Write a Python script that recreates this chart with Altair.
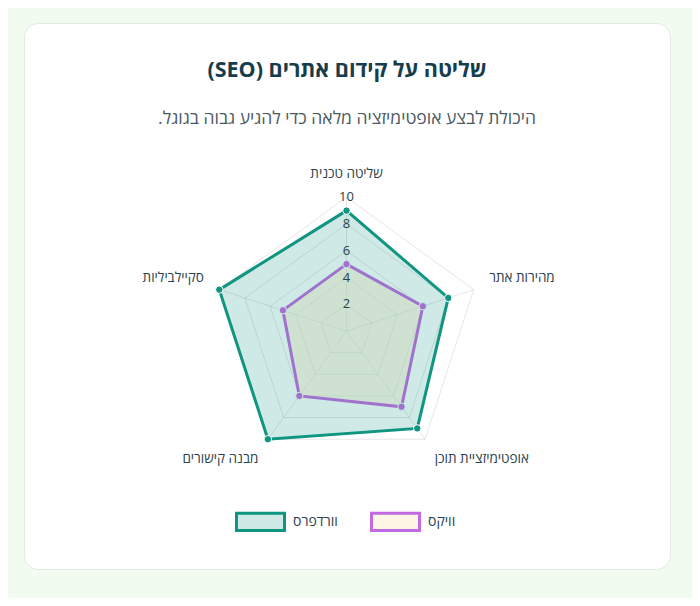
import math
import altair as alt
import pandas as pd

# ---------------- data ----------------
title_text = "שליטה על קידום אתרים (SEO)"
subtitle_text = "היכולת לבצע אופטימיזציה מלאה כדי להגיע גבוה בגוגל."
categories = ["שליטה טכנית", "מהירות אתר", "אופטימיזציית תוכן", "מבנה קישורים", "סקיילביליות"]
series_names = ["וורדפרס", "וויקס"]
wordpress_values = [9, 8, 9, 10, 10]
wix_values = [5, 6, 7, 6, 5]
tick_values = [2, 4, 6, 8, 10]
scale_max = 10

# ---------------- styles / layout ----------------
stroke_colors = ["#0f9580", "#c36ae0"]
fill_colors = ["rgba(17,149,128,0.2)", "rgba(255,234,200,0.45)"]
FONT = "Open Sans, DejaVu Sans, sans-serif"
TEXT_COLOR = "#2a424d"

W, H = 646, 546          # card (view) size
CX, CY = 322.5, 308.0    # radar centre inside the view, px
PX = 13.375              # px per value unit
x_dom = [-CX / PX, (W - CX) / PX]
y_dom = [-(H - CY) / PX, CY / PX]
LABEL_R = 150 / PX

n = len(categories)


def ang(i):
    return math.pi / 2 - 2 * math.pi * i / n


x_enc = lambda f: alt.X(f"{f}:Q", scale=alt.Scale(domain=x_dom, nice=False, zero=False), axis=None)
y_enc = lambda f: alt.Y(f"{f}:Q", scale=alt.Scale(domain=y_dom, nice=False, zero=False), axis=None)

# grid rings
ring_rows = []
for lv in tick_values:
    for k in range(n + 1):
        i = k % n
        ring_rows.append({"level": lv, "k": k,
                          "x": lv * math.cos(ang(i)), "y": lv * math.sin(ang(i))})
rings = alt.Chart(pd.DataFrame(ring_rows)).mark_line(
    stroke="#000000", strokeOpacity=0.1, strokeWidth=1
).encode(x=x_enc("x"), y=y_enc("y"), detail="level:N", order="k:Q")

# spokes
spoke_rows = [{"x0": 0.0, "y0": 0.0,
               "x": scale_max * math.cos(ang(i)), "y": scale_max * math.sin(ang(i))}
              for i in range(n)]
spokes = alt.Chart(pd.DataFrame(spoke_rows)).mark_rule(
    stroke="#000000", strokeOpacity=0.1, strokeWidth=1
).encode(x=x_enc("x0"), y=y_enc("y0"), x2=alt.X2("x"), y2=alt.Y2("y"))

# tick labels
tick_df = pd.DataFrame({"x": [0.0] * len(tick_values), "y": tick_values,
                        "t": [str(v) for v in tick_values]})
ticks = alt.Chart(tick_df).mark_text(
    font=FONT, fontSize=13, color=TEXT_COLOR, baseline="middle", align="center"
).encode(x=x_enc("x"), y=y_enc("y"), text="t:N")

legend = alt.Legend(
    title=None, orient="none", legendX=211, legendY=473, direction="horizontal",
    symbolType="M-1,-0.36L1,-0.36L1,0.36L-1,0.36Z", symbolSize=2304,
    symbolStrokeWidth=3, symbolOpacity=1, labelFont=FONT, labelFontSize=14,
    labelColor=TEXT_COLOR, labelOffset=7, columnPadding=27, padding=0,
)
stroke_enc = alt.Stroke("series:N", scale=alt.Scale(domain=series_names, range=stroke_colors), legend=legend)
fill_enc = alt.Fill("series:N", scale=alt.Scale(domain=series_names, range=fill_colors), legend=legend)


def series_layers(name, values, color):
    rows = []
    for k in range(n + 1):
        i = k % n
        rows.append({"series": name, "k": k, "cat": categories[i], "v": values[i],
                     "x": values[i] * math.cos(ang(i)), "y": values[i] * math.sin(ang(i))})
    df = pd.DataFrame(rows)
    line = alt.Chart(df).mark_line(strokeWidth=3).encode(
        x=x_enc("x"), y=y_enc("y"), order="k:Q", stroke=stroke_enc, fill=fill_enc)
    pts = alt.Chart(df[df.k < n]).mark_circle(
        size=55, color=color, opacity=1, stroke="white", strokeWidth=1
    ).encode(x=x_enc("x"), y=y_enc("y"))
    return [line, pts]


# Chart.js draws the first dataset on top -> draw Wix first
wix_layers = series_layers(series_names[1], wix_values, stroke_colors[1])
wp_layers = series_layers(series_names[0], wordpress_values, stroke_colors[0])

# category labels
lab_rows = []
for i, c in enumerate(categories):
    a = ang(i)
    ca, sa = math.cos(a), math.sin(a)
    align = "center" if abs(ca) < 0.1 else ("left" if ca > 0 else "right")
    base = "bottom" if sa > -0.1 else "top"
    lab_rows.append({"label": c, "x": LABEL_R * ca, "y": LABEL_R * sa,
                     "align": align, "base": base})
lab_df = pd.DataFrame(lab_rows)
label_layers = []
for (al, bs), sub in lab_df.groupby(["align", "base"]):
    label_layers.append(
        alt.Chart(sub).mark_text(font=FONT, fontSize=13.5, color=TEXT_COLOR,
                                 align=al, baseline=bs)
        .encode(x=x_enc("x"), y=y_enc("y"), text="label:N")
    )

RLE, PDF = "\u202b", "\u202c"
chart = alt.layer(
    rings, spokes, *wix_layers, *wp_layers, ticks, *label_layers
).properties(
    width=W, height=H,
    autosize="none",
    padding={"left": 16, "top": 15, "right": 22, "bottom": 29},
    background="#f1fbf0",
    title=alt.TitleParams(
        text=RLE + title_text + PDF, subtitle=RLE + subtitle_text + PDF,
        anchor="middle", frame="group", offset=-104,
        font=FONT, fontSize=21.5, fontWeight="bold", color="#173c4c",
        subtitleFont=FONT, subtitleFontSize=17.5, subtitleColor="#4b5a61",
        subtitlePadding=28,
    ),
).configure_view(
    fill="white", cornerRadius=14, stroke="#e2ebe2", strokeWidth=1
)

chart.save("out.html", embed_options={"renderer": "svg", "actions": False})
